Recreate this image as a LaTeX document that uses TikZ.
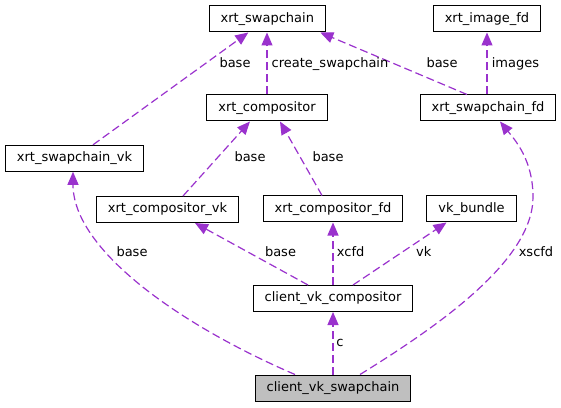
\documentclass[tikz,border=0pt]{standalone}
\usepackage{fontspec}
\setmainfont{DejaVu Sans}
\usetikzlibrary{arrows.meta}
\definecolor{edgepurple}{HTML}{9A32CD}
\definecolor{maingray}{HTML}{BFBFBF}
\begin{document}
\begin{tikzpicture}[x=1pt,y=1pt] % граф связей client_vk_swapchain
\tikzstyle{cls} = [draw=black, line width=1pt, minimum height=26pt, inner xsep=11.5pt, inner ysep=0pt, text height=9.5pt, text depth=3pt, font=\fontsize{13}{15}\selectfont] % стиль класса
\tikzstyle{clsmain} = [cls, fill=maingray] % выделенный класс
\tikzstyle{uses} = [draw=edgepurple, line width=1.2pt, dash pattern=on 8pt off 4pt, -{Triangle[length=13pt,width=11pt,fill=edgepurple]}] % связь "использует"
\tikzstyle{lbl} = [anchor=base, inner sep=0pt, font=\fontsize{13}{15}\selectfont] % подпись связи
\useasboundingbox (0,0) rectangle (561,407);
% классы
\node[cls] (xsc) at (267.3,388) {xrt\_swapchain};
\node[cls] (xifd) at (487,388) {xrt\_image\_fd};
\node[cls] (xc) at (267,299) {xrt\_compositor};
\node[cls] (xscfd) at (488,299) {xrt\_swapchain\_fd};
\node[cls] (xscvk) at (74.5,248.7) {xrt\_swapchain\_vk};
\node[cls] (xcvk) at (167.5,197.5) {xrt\_compositor\_vk};
\node[cls] (xcfd) at (333,198) {xrt\_compositor\_fd};
\node[cls] (vkb) at (471.5,198) {vk\_bundle};
\node[cls] (cvc) at (333,108.5) {client\_vk\_compositor};
\node[clsmain] (cvs) at (333,19) {client\_vk\_swapchain};
% связи
\draw[uses] ([xshift=18.5pt]xscvk.north) -- ([xshift=-19pt]xsc.south);
\draw[uses] (xc.north) -- (xc.north |- xsc.south);
\draw[uses] ([xshift=-21pt]xscfd.north) -- ([xshift=53pt]xsc.south);
\draw[uses] (xscfd.north -| xifd.south) -- (xifd.south);
\draw[uses] ([xshift=15.5pt]xcvk.north) -- ([xshift=-17pt]xc.south);
\draw[uses] ([xshift=-11pt]xcfd.north) -- ([xshift=13pt]xc.south);
\draw[uses] ([xshift=-25pt]cvc.north) -- ([xshift=27.5pt]xcvk.south);
\draw[uses] (cvc.north) -- (xcfd.south);
\draw[uses] ([xshift=20pt]cvc.north) -- ([xshift=-25pt]vkb.south);
\draw[uses] (cvs.north) -- (cvc.south);
\draw[uses] ([xshift=-38pt]cvs.north) .. controls (180,82) and (73,157) .. ([xshift=-1.5pt]xscvk.south);
\draw[uses] ([xshift=27pt]cvs.north) .. controls (440,82) and (533,147) .. (533,210) .. controls (533,247) and (515,267) .. ([xshift=12pt]xscfd.south);
% подписи
\node[lbl] (l1) at (235,339.5) {base};
\node[lbl] (l2) at (330,339.5) {create\_swapchain};
\node[lbl] (l3) at (442,339.5) {base};
\node[lbl] (l4) at (515.5,339.5) {images};
\node[lbl] (l5) at (250,245) {base};
\node[lbl] (l6) at (328,245) {base};
\node[lbl] (l7) at (132,150.5) {base};
\node[lbl] (l8) at (280.5,150.5) {base};
\node[lbl] (l9) at (350.7,150.5) {xcfd};
\node[lbl] (l10) at (423.7,150.5) {vk};
\node[lbl] (l11) at (536,150.5) {xscfd};
\node[lbl] (l12) at (340,60.5) {c};
\end{tikzpicture}
\end{document}
